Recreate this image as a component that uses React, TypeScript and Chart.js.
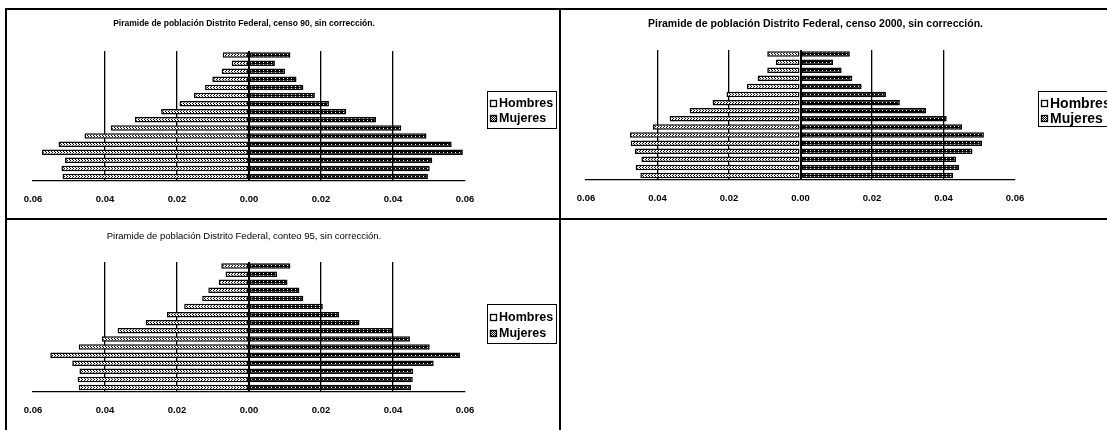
import React, { useEffect, useRef } from "react";
import { Chart, registerables } from "chart.js";

Chart.register(...registerables);

// ---------- data ----------
const ageGroups = ["75+", "70-74", "65-69", "60-64", "55-59", "50-54", "45-49", "40-44", "35-39", "30-34", "25-29", "20-24", "15-19", "10-14", "5-9", "0-4"];
const tickValues = [-0.06, -0.04, -0.02, 0, 0.02, 0.04, 0.06];
const seriesNames = ["Hombres", "Mujeres"];

const censo90Hombres = [0.0073, 0.0048, 0.0076, 0.0102, 0.0122, 0.0153, 0.0193, 0.0244, 0.0317, 0.0384, 0.0457, 0.0529, 0.0575, 0.0511, 0.0521, 0.0518];
const censo90Mujeres = [0.0115, 0.0072, 0.0100, 0.0132, 0.0151, 0.0183, 0.0222, 0.0270, 0.0353, 0.0423, 0.0493, 0.0563, 0.0594, 0.0509, 0.0502, 0.0497];

const censo2000Hombres = [0.0093, 0.0069, 0.0093, 0.0120, 0.0150, 0.0207, 0.0246, 0.0310, 0.0366, 0.0413, 0.0477, 0.0475, 0.0463, 0.0445, 0.0461, 0.0448];
const censo2000Mujeres = [0.0138, 0.0091, 0.0115, 0.0145, 0.0171, 0.0239, 0.0278, 0.0351, 0.0409, 0.0452, 0.0513, 0.0508, 0.0481, 0.0435, 0.0444, 0.0427];

const conteo95Hombres = [0.0077, 0.0065, 0.0084, 0.0113, 0.0130, 0.0180, 0.0228, 0.0287, 0.0365, 0.0409, 0.0473, 0.0552, 0.0491, 0.0471, 0.0476, 0.0473];
const conteo95Mujeres = [0.0115, 0.0078, 0.0107, 0.0140, 0.0151, 0.0205, 0.0250, 0.0307, 0.0398, 0.0447, 0.0502, 0.0586, 0.0513, 0.0456, 0.0455, 0.0450];

const titles = [
  "Piramide de población Distrito Federal, censo 90, sin corrección.",
  "Piramide de población Distrito Federal, censo 2000, sin corrección.",
  "Piramide de población Distrito Federal, conteo 95, sin corrección.",
];

const FONT = "'Liberation Sans', Arial, sans-serif";

function makePattern(bg: string, fg: string, w: number, h: number, dots: number[][]) {
  const c = document.createElement("canvas");
  c.width = w;
  c.height = h;
  const g = c.getContext("2d")!;
  g.fillStyle = bg;
  g.fillRect(0, 0, w, h);
  g.fillStyle = fg;
  dots.forEach(([x, y, dw, dh]) => g.fillRect(x, y, dw, dh));
  return g.createPattern(c, "repeat")!;
}

const panelDecor = {
  id: "panelDecor",
  afterDraw(chart: any, _args: any, opts: any) {
    const { ctx, chartArea } = chart;
    ctx.save();
    ctx.fillStyle = "#000";
    ctx.textAlign = "center";
    ctx.textBaseline = "middle";
    ctx.font = opts.titleFont;
    ctx.fillText(opts.title, (chartArea.left + chartArea.right) / 2 + opts.titleDx, chartArea.top - opts.titleRise);

    const L = opts.legend;
    const bx = Math.round(chartArea.right + L.dx);
    const by = Math.round(chartArea.top + L.dy);
    ctx.lineWidth = 1;
    ctx.strokeStyle = "#000";
    ctx.strokeRect(bx + 0.5, by + 0.5, L.w, L.h);
    ctx.font = L.font;
    ctx.textAlign = "left";
    chart.data.datasets.forEach((ds: any, i: number) => {
      const cy = Math.round(by + L.rows[i]);
      ctx.fillStyle = opts.swatches[i];
      ctx.fillRect(bx + 3, cy - 3, 7, 7);
      ctx.lineWidth = 1.3;
      ctx.strokeRect(bx + 3.5, cy - 2.5, 6, 6);
      ctx.fillStyle = "#000";
      ctx.fillText(ds.label, bx + 12, cy + 1);
    });
    ctx.restore();
  },
};

type Spec = {
  hombres: number[];
  mujeres: number[];
  title: string;
  titleFont: string;
  titleDx: number;
  titleRise: number;
  padding: { top: number; left: number; right: number; bottom: number };
  legend: { dx: number; dy: number; w: number; h: number; rows: number[]; font: string };
  left: number;
  top: number;
  width: number;
  height: number;
};

function Pyramid({ spec }: { spec: Spec }) {
  const ref = useRef<HTMLCanvasElement | null>(null);
  useEffect(() => {
    const canvas = ref.current!;
    const hPattern = makePattern("#ffffff", "#000000", 3, 2, [[0, 1, 1, 1], [1, 0, 1, 1]]);
    const mPattern = makePattern("#000000", "#ffffff", 4, 2, [[1, 0, 1, 1]]);
    const checker = makePattern("#000000", "#ffffff", 2, 2, [[0, 0, 1, 1], [1, 1, 1, 1]]);
    const chart = new Chart(canvas, {
      type: "bar",
      data: {
        labels: ageGroups,
        datasets: [
          {
            label: seriesNames[0],
            data: spec.hombres.map((v) => -v),
            backgroundColor: hPattern as any,
            borderColor: "#000",
            borderWidth: 1.5,
            borderSkipped: false,
            categoryPercentage: 1,
            barPercentage: 0.68,
          },
          {
            label: seriesNames[1],
            data: spec.mujeres,
            backgroundColor: mPattern as any,
            borderColor: "#000",
            borderWidth: 1.5,
            borderSkipped: false,
            categoryPercentage: 1,
            barPercentage: 0.68,
          },
        ],
      },
      options: {
        indexAxis: "y",
        responsive: false,
        animation: false,
        devicePixelRatio: 1,
        layout: { padding: spec.padding },
        plugins: {
          legend: { display: false },
          title: { display: false },
          tooltip: { enabled: false },
          panelDecor: {
            title: spec.title,
            titleFont: spec.titleFont,
            titleDx: spec.titleDx,
            titleRise: spec.titleRise,
            legend: spec.legend,
            swatches: ["#ffffff", checker],
          },
        } as any,
        scales: {
          x: {
            type: "linear",
            min: -0.06,
            max: 0.06,
            stacked: true,
            afterBuildTicks: (axis: any) => {
              axis.ticks = tickValues.map((v) => ({ value: v }));
            },
            ticks: {
              callback: (v: any) => Math.abs(Number(v)).toFixed(2),
              color: "#000",
              font: { family: FONT, size: 9.5, weight: "bold" },
              padding: 13,
              maxRotation: 0,
              autoSkip: false,
            },
            grid: {
              drawTicks: false,
              color: (c: any) => (c.tick && Math.abs(c.tick.value) > 0.05 ? "rgba(0,0,0,0)" : "#000"),
              lineWidth: (c: any) => (c.tick && Math.abs(c.tick.value) < 1e-9 ? 2 : 1.3),
            },
            border: { display: true, color: "#000", width: 1.3 },
          },
          y: { stacked: true, display: false },
        },
      },
      plugins: [panelDecor as any],
    });
    return () => chart.destroy();
  }, [spec]);
  return (
    <canvas
      ref={ref}
      width={spec.width}
      height={spec.height}
      style={{ position: "absolute", left: spec.left, top: spec.top, width: spec.width, height: spec.height }}
    />
  );
}

const specs: Spec[] = [
  {
    hombres: censo90Hombres,
    mujeres: censo90Mujeres,
    title: titles[0],
    titleFont: `bold 8.5px ${FONT}`,
    titleDx: -5,
    titleRise: 27,
    padding: { top: 41, left: 27, right: 94, bottom: 1 },
    legend: { dx: 22, dy: 40, w: 69, h: 37, rows: [12, 27], font: `bold 12.5px ${FONT}` },
    left: 6,
    top: 10,
    width: 553,
    height: 209,
  },
  {
    hombres: censo2000Hombres,
    mujeres: censo2000Mujeres,
    title: titles[1],
    titleFont: `bold 10.5px ${FONT}`,
    titleDx: 15,
    titleRise: 26,
    padding: { top: 40, left: 25, right: 106, bottom: 2 },
    legend: { dx: 23, dy: 41, w: 80, h: 35, rows: [12, 27], font: `bold 14px ${FONT}` },
    left: 561,
    top: 10,
    width: 560,
    height: 209,
  },
  {
    hombres: conteo95Hombres,
    mujeres: conteo95Mujeres,
    title: titles[2],
    titleFont: `9.5px ${FONT}`,
    titleDx: -5,
    titleRise: 26,
    padding: { top: 41, left: 27, right: 94, bottom: 1 },
    legend: { dx: 22, dy: 42, w: 69, h: 39, rows: [13, 29], font: `bold 12.5px ${FONT}` },
    left: 6,
    top: 221,
    width: 553,
    height: 209,
  },
];

export default function App() {
  const line = (l: number, t: number, w: number, h: number) => (
    <div style={{ position: "absolute", left: l, top: t, width: w, height: h, background: "#000" }} />
  );
  return (
    <div
      style={{
        position: "fixed",
        left: 0,
        top: 0,
        width: 1107,
        height: 430,
        overflow: "hidden",
        background: "#fff",
      }}
    >
      {specs.map((s, i) => (
        <Pyramid key={i} spec={s} />
      ))}
      {line(5, 8, 1102, 2)}
      {line(5, 218, 1102, 2)}
      {line(5, 8, 2, 422)}
      {line(559, 8, 2, 422)}
    </div>
  );
}
